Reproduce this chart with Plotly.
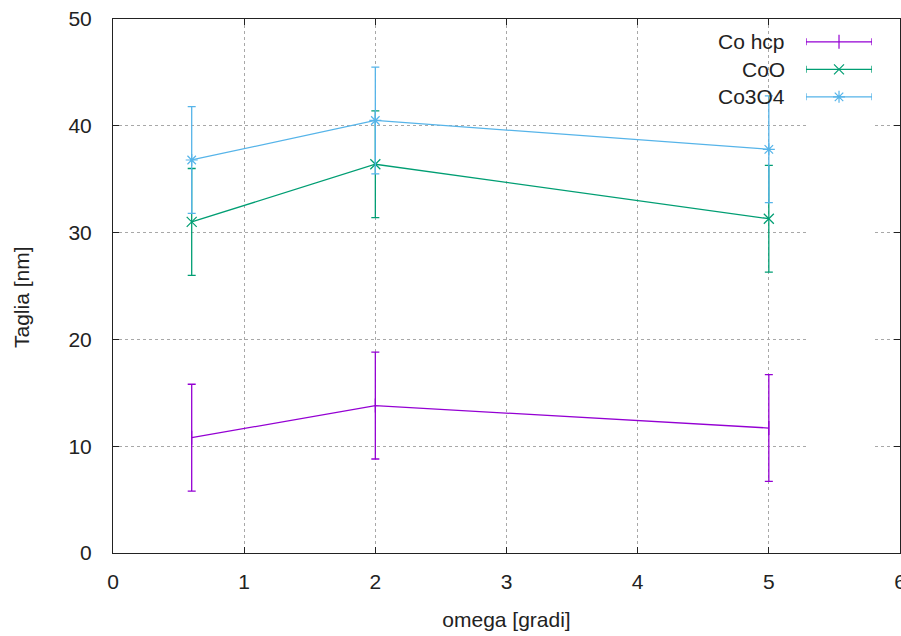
import plotly.graph_objects as go

omega = [0.6, 2, 5]
names = ["Co hcp", "CoO", "Co3O4"]
taglia_cohcp = [10.8, 13.8, 11.7]
taglia_coo = [31.0, 36.4, 31.3]
taglia_co3o4 = [36.8, 40.5, 37.8]
err_cohcp = [5, 5, 5]
err_coo = [5, 5, 5]
err_co3o4 = [5, 5, 5]
colors = ["#9400D3", "#009E73", "#56B4E9"]
symbols = ["line-ns", "x-thin", "asterisk"]
xticks = [0, 1, 2, 3, 4, 5, 6]
yticks = [0, 10, 20, 30, 40, 50]

FONT = "Liberation Sans, Arial, sans-serif"
TXT = "#222"
FS = 21

series = [taglia_cohcp, taglia_coo, taglia_co3o4]
errs = [err_cohcp, err_coo, err_co3o4]

fig = go.Figure()
for i, (nm, ys, es) in enumerate(zip(names, series, errs)):
    fig.add_trace(go.Scatter(
        x=omega, y=ys, mode="lines+markers", name=nm,
        line=dict(color=colors[i], width=1.3),
        marker=dict(symbol=symbols[i], size=10, color=colors[i],
                    line=dict(color=colors[i], width=1.2)),
        error_y=dict(type="data", array=es, visible=True, color=colors[i],
                     thickness=1.3, width=4),
        showlegend=False,
    ))
    # legend key (gnuplot style: horizontal bar with caps to the right of the text)
    fig.add_trace(go.Scatter(
        x=[0], y=[-i], xaxis="x2", yaxis="y2", mode="markers",
        marker=dict(symbol=symbols[i], size=10, color=colors[i],
                    line=dict(color=colors[i], width=1.2)),
        error_x=dict(type="constant", value=1, visible=True, color=colors[i],
                     thickness=1.3, width=3.5),
        showlegend=False, hoverinfo="skip",
    ))
    fig.add_annotation(x=-1, y=-i, xref="x2", yref="y2", text=nm,
                       xanchor="right", yanchor="middle", xshift=-19, showarrow=False,
                       font=dict(family=FONT, size=FS, color=TXT))

axis_common = dict(
    showline=True, linecolor="#222", linewidth=1, mirror="ticks",
    ticks="inside", ticklen=6, tickcolor="#222",
    showgrid=True, gridcolor="#a8a8a8", griddash="dot", gridwidth=1,
    zeroline=False, ticklabeloverflow="allow", automargin=False,
    tickfont=dict(family=FONT, size=FS, color=TXT),
)

fig.add_annotation(x=(22 - 113) / 787, y=(553 - 297) / 534, xref="paper", yref="paper",
                   text="Taglia [nm]", textangle=-90, showarrow=False,
                   xanchor="center", yanchor="middle",
                   font=dict(family=FONT, size=FS, color=TXT))

fig.update_layout(
    width=901, height=636,
    margin=dict(l=113, r=1, t=19, b=83),
    plot_bgcolor="white", paper_bgcolor="white",
    xaxis=dict(range=[0, 6], tickvals=xticks, ticklabelstandoff=10,
               title=dict(text="omega [gradi]", standoff=20,
                          font=dict(family=FONT, size=FS, color=TXT)),
               **axis_common),
    yaxis=dict(range=[0, 50], tickvals=yticks, ticklabelstandoff=16,
               **axis_common),
    xaxis2=dict(domain=[0.8806, 0.9644], range=[-1, 1], visible=False, anchor="y2"),
    yaxis2=dict(domain=[0, 1], range=[-18.59, 0.83], visible=False, anchor="x2"),
)

fig.write_html("out.html")
